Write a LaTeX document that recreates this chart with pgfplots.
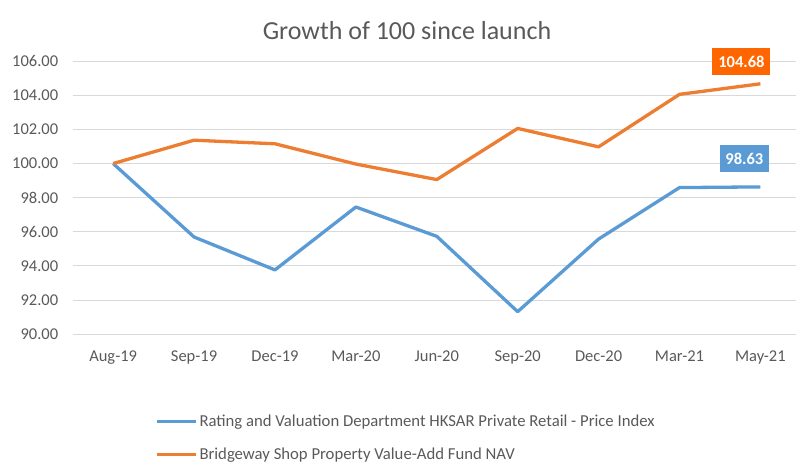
\documentclass[border=0pt]{standalone}
\usepackage{pgfplots}
\pgfplotsset{compat=1.18}
\usepackage{fontspec}
\setmainfont{Carlito}
\definecolor{myblue}{HTML}{5B9BD5}
\definecolor{myorange}{HTML}{ED7D31}
\definecolor{lblorange}{HTML}{FF6600}
\definecolor{txtgray}{HTML}{595959}
\definecolor{gridgray}{HTML}{D9D9D9}
\begin{document}
\begin{tikzpicture}[x=1pt,y=1pt]
\useasboundingbox (0,0) rectangle (796,462);
\node[text=txtgray, font=\fontsize{26}{30}\selectfont] at (407,431) {Growth of 100 since launch};
\begin{axis}[
  at={(72.7pt,128pt)}, anchor=south west,
  scale only axis, width=723.3pt, height=272.7pt,
  xmin=-0.5, xmax=8.44, ymin=90, ymax=106,
  clip=false,
  axis x line*=bottom, axis y line*=left,
  x axis line style={gridgray, line width=0.8pt, -},
  y axis line style={draw=none},
  ytick={90,92,...,106},
  ymajorgrids, major grid style={gridgray, line width=0.8pt},
  ytick style={draw=none},
  xtick={0,...,8},
  xticklabels={Aug-19,Sep-19,Dec-19,Mar-20,Jun-20,Sep-20,Dec-20,Mar-21,May-21},
  xtick style={draw=none},
  major tick length=0pt,
  minor xtick={-0.5,0.5,...,7.5},
  minor tick length=5pt,
  tick align=outside,
  minor x tick style={gridgray, line width=0.8pt},
  tick label style={font=\fontsize{16.5}{19}\selectfont, text=txtgray},
  /pgf/number format/assume math mode=true,
  yticklabel style={/pgf/number format/fixed, /pgf/number format/fixed zerofill, /pgf/number format/precision=2, xshift=-11pt},
  xticklabel style={yshift=-13pt},
  legend style={at={(0.1138,-0.2897)}, anchor=north west, draw=none, fill=none,
    font=\fontsize{16.7}{19}\selectfont, text=txtgray, row sep=15.5pt, cells={anchor=west}, inner sep=0pt},
  legend image code/.code={\draw[#1] (0pt,0pt) -- (39pt,0pt);},
]
\addplot[myblue, line width=3.3pt, line join=round] coordinates {
  (0,100) (1,95.69) (2,93.76) (3,97.45) (4,95.73) (5,91.31) (6,95.57) (7,98.59) (8,98.63)
};
\addlegendentry{Rating and Valuation Department HKSAR Private Retail - Price Index}
\addplot[myorange, line width=3.3pt, line join=round] coordinates {
  (0,100) (1,101.37) (2,101.16) (3,99.97) (4,99.06) (5,102.06) (6,100.98) (7,104.06) (8,104.68)
};
\addlegendentry{Bridgeway Shop Property Value-Add Fund NAV}
\node[fill=lblorange, text=white, font=\bfseries\fontsize{16.5}{19}\selectfont, minimum width=58pt, minimum height=27pt, inner sep=0pt, xshift=-19pt, yshift=22pt] at (axis cs:8,104.68) {104.68};
\node[fill=myblue, text=white, font=\bfseries\fontsize{16.5}{19}\selectfont, minimum width=48.6pt, minimum height=27pt, inner sep=0pt, xshift=-16pt, yshift=28pt] at (axis cs:8,98.63) {98.63};
\end{axis}
\end{tikzpicture}
\end{document}
